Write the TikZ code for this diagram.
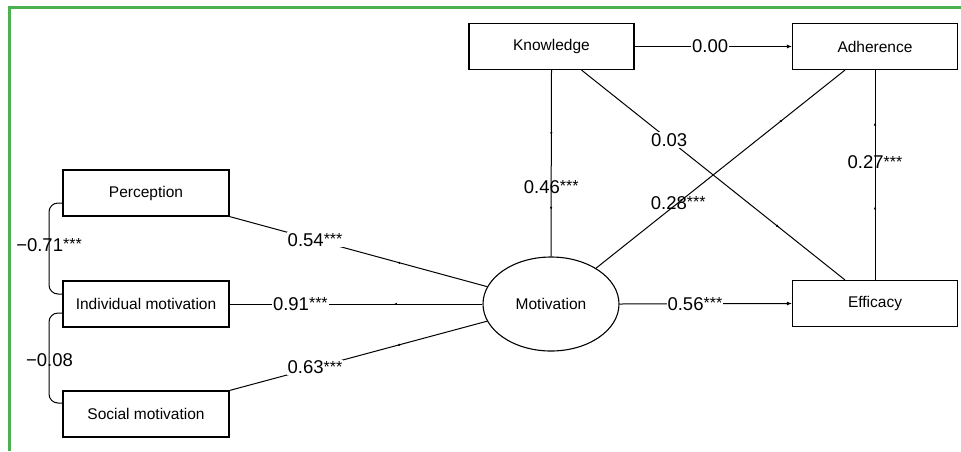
\documentclass[tikz,border=0pt]{standalone}
\usepackage{fontspec}
\setmainfont{Liberation Sans}
\usetikzlibrary{positioning,arrows.meta,shapes.geometric,decorations.markings}
\definecolor{framegreen}{RGB}{76,178,80}
\newcommand{\sigstars}{\raisebox{1.5pt}{\fontsize{16}{16}\selectfont ***}}

\begin{document}
\begin{tikzpicture}[
  x=1pt, y=-1pt,
  box/.style={draw, line width=1.1pt, minimum width=165pt, minimum height=46pt, inner sep=0pt,
              font=\fontsize{15.5}{18}\selectfont},
  latent/.style={draw, ellipse, line width=1.1pt, minimum width=136pt, minimum height=94pt, inner sep=0pt,
                 font=\fontsize{15.5}{18}\selectfont},
  link/.style={line width=1pt},
  headarrow/.style={link, -{Latex[length=5pt,width=4pt]}},
  midtips/.style={postaction={decorate}, decoration={markings,
      mark=at position 0.35 with {\arrow{Latex[length=3pt,width=2.5pt]}},
      mark=at position 0.75 with {\arrow{Latex[length=3pt,width=2.5pt]}}}},
  coef/.style={font=\fontsize{18.5}{21}\selectfont, inner sep=1pt},
  coefw/.style={coef, fill=white}
]
\useasboundingbox (0,0) rectangle (961,451);

% frame (top and left edge only)
\draw[framegreen, line width=3pt] (9.2,451) -- (9.2,7.2) -- (961,7.2);

% observed variables
\node[box] (know) at (551.5,46.5) {Knowledge};
\node[box] (adh)  at (875,46.5)   {Adherence};
\node[box] (eff)  at (875,303.5)  {Efficacy};
\node[box, minimum width=166pt] (perc)  at (146,193) {Perception};
\node[box, minimum width=166pt] (indiv) at (146,304) {Individual motivation};
\node[box, minimum width=166pt] (soc)   at (146,414) {Social motivation};

% latent variable
\node[latent] (mot) at (551,304) {Motivation};

% loadings
\draw[link, midtips] (mot) -- (perc.south east)
  node[coefw, pos=0.668] (lperc) {0.54\sigstars};
\draw[link, midtips] (mot) -- (indiv.east)
  node[coefw, pos=0.72] (lindiv) {0.91\sigstars};
\draw[link, midtips] (mot) -- (soc.north east)
  node[coefw, pos=0.668] (lsoc) {0.63\sigstars};

% structural paths
\draw[link, midtips] (know.south) -- (mot.north)
  node[coef, pos=0.626] (lkm) {0.46\sigstars};
\draw[link, midtips] ([xshift=30pt]know.south) -- ([xshift=-30pt]eff.north)
  node[coefw, pos=0.333] (lke) {0.03};
\draw[link, midtips] (mot) -- ([xshift=-30pt]adh.south)
  node[coef, pos=0.33] (lma) {0.28\sigstars};
\draw[link, midtips] (eff.north) -- (adh.south)
  node[coef, pos=0.56] (lea) {0.27\sigstars};
\draw[headarrow] (know.east) -- (adh.west)
  node[coefw, pos=0.48] (lka) {0.00};
\draw[headarrow] (mot.east) -- (eff.west)
  node[coefw, pos=0.437] (lme) {0.56\sigstars};

% residual correlations
\draw[link, rounded corners=9pt] ([yshift=-10pt]perc.west) -- (49,203) -- (49,294) -- ([yshift=10pt]indiv.west);
\node[coef] (cpi) at (49,245) {−0.71\sigstars};
\draw[link, rounded corners=9pt] ([yshift=-9pt]indiv.west) -- (49,313) -- (49,403) -- ([yshift=11pt]soc.west);
\node[coef] (cis) at (49.5,360) {−0.08};
\end{tikzpicture}
\end{document}
